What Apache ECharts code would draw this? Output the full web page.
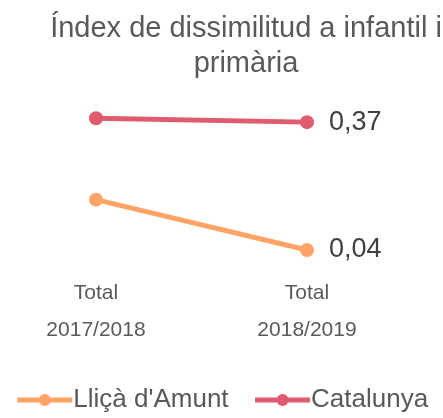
<!DOCTYPE html>
<html>
<head>
<meta charset="utf-8">
<script src="https://cdn.jsdelivr.net/npm/echarts@6/dist/echarts.min.js"></script>
<style>
  html, body { margin: 0; padding: 0; background: #fff; }
  #chart { width: 443px; height: 418px; }
</style>
</head>
<body>
<div id="chart"></div>
<script>
const categories = ["Total\n2017/2018", "Total\n2018/2019"];
const seriesNames = ["Lliçà d'Amunt", "Catalunya"];
const llicaValues = [0.17, 0.04];
const catalunyaValues = [0.38, 0.37];
const colors = ["#FFA466", "#E05B6D"];

const myChart = echarts.init(document.getElementById("chart"));

function lastLabel(values) {
  return {
    show: true,
    position: "right",
    distance: 15,
    fontSize: 27,
    color: "#404040",
    fontFamily: "Liberation Sans",
    formatter: (p) => p.dataIndex === values.length - 1 ? p.value.toFixed(2).replace(".", ",") : ""
  };
}

const option = {
  animation: false,
  color: colors,
  textStyle: { fontFamily: "Liberation Sans" },
  title: {
    text: "Índex de dissimilitud a infantil i\nprimària",
    left: 241,
    textAlign: "center",
    top: 6,
    textStyle: {
      fontSize: 29,
      fontWeight: "normal",
      color: "#595959",
      lineHeight: 35,
      fontFamily: "Liberation Sans"
    }
  },
  legend: {
    bottom: 0,
    left: "center",
    itemWidth: 55,
    itemHeight: 15,
    itemGap: 24,
    lineStyle: { width: 5 },
    textStyle: { fontSize: 26, color: "#595959", padding: [0, 0, 0, -4] },
    data: seriesNames
  },
  grid: { left: 96, right: 136, top: 110.5, bottom: 152.5 },
  xAxis: {
    type: "category",
    boundaryGap: false,
    data: categories,
    axisLine: { show: false },
    axisTick: { show: false },
    axisLabel: {
      margin: 9,
      fontSize: 21,
      lineHeight: 37,
      color: "#595959",
      interval: 0
    }
  },
  yAxis: {
    type: "value",
    min: 0,
    max: 0.4,
    show: false
  },
  series: [
    {
      name: seriesNames[0],
      type: "line",
      data: llicaValues,
      symbol: "circle",
      symbolSize: 14,
      lineStyle: { width: 5 },
      label: lastLabel(llicaValues)
    },
    {
      name: seriesNames[1],
      type: "line",
      data: catalunyaValues,
      symbol: "circle",
      symbolSize: 14,
      lineStyle: { width: 5 },
      label: lastLabel(catalunyaValues)
    }
  ]
};

myChart.setOption(option);
</script>
</body>
</html>
